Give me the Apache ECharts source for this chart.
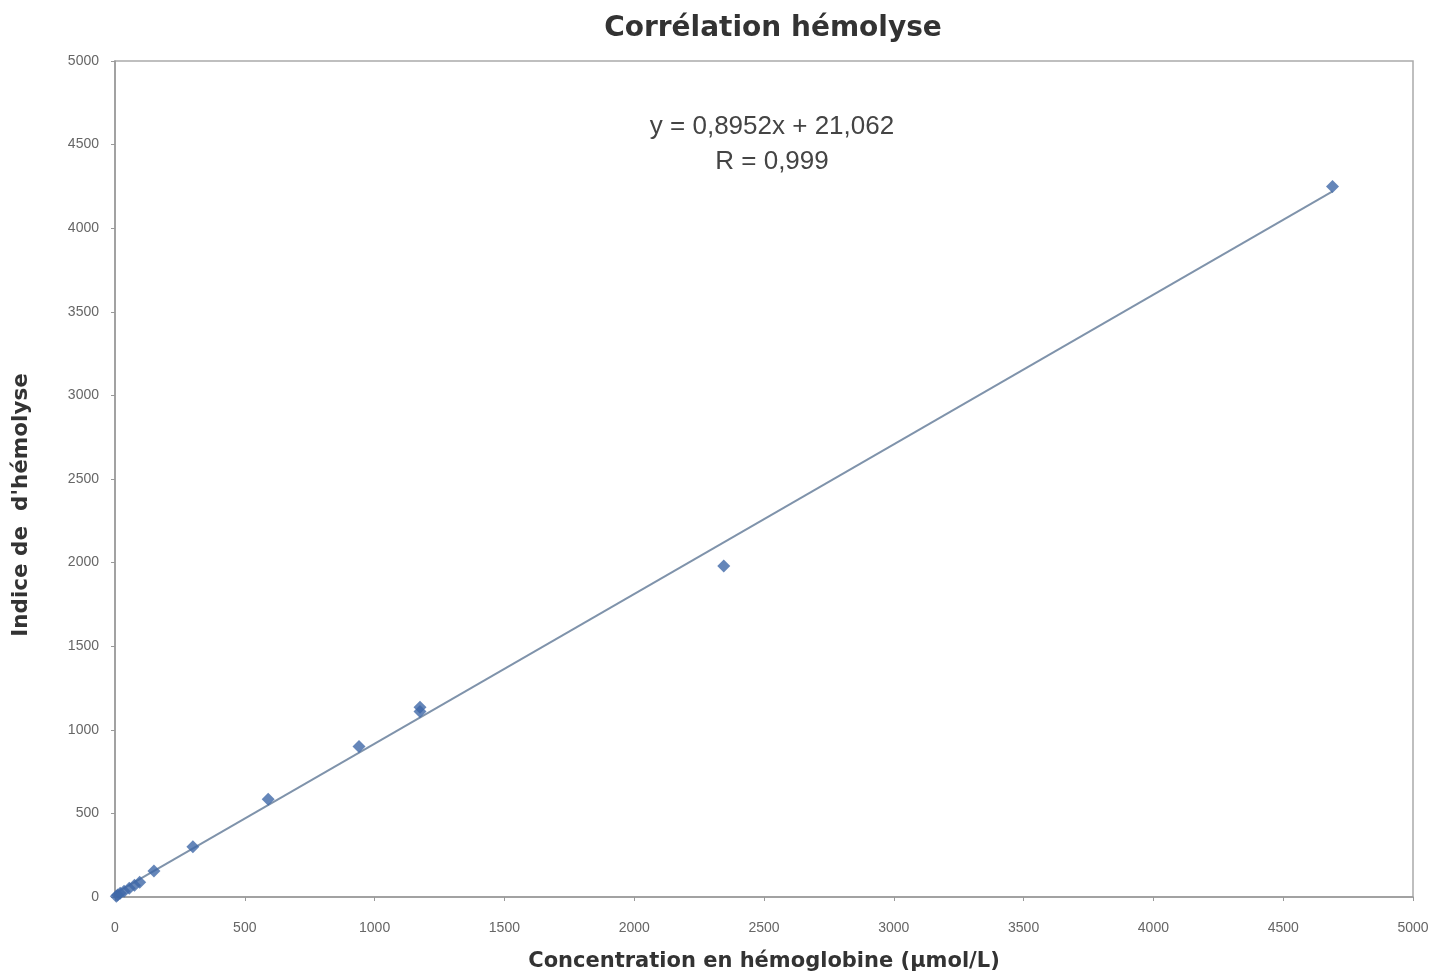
<!DOCTYPE html>
<html><head><meta charset="utf-8">
<script src="https://cdn.jsdelivr.net/npm/echarts@6/dist/echarts.min.js"></script>
<style>html,body{margin:0;padding:0;background:#fff}#c{width:1453px;height:977px}</style>
</head><body><div id="c"></div>
<script>
var hemoglobin = [5, 10, 20, 35, 55, 75, 95, 150, 300, 590, 940, 1175, 1175, 2345, 4690];
var hemolysisIndex = [5, 12, 22, 35, 52, 70, 88, 155, 300, 585, 900, 1110, 1135, 1980, 4250];
var trendX = [0, 4690];
var trendY = [21, 4220];
var xTicks = [0, 500, 1000, 1500, 2000, 2500, 3000, 3500, 4000, 4500, 5000];
var yTicks = [0, 500, 1000, 1500, 2000, 2500, 3000, 3500, 4000, 4500, 5000];

var points = hemoglobin.map(function (x, i) { return [x, hemolysisIndex[i]]; });
var trend = trendX.map(function (x, i) { return [x, trendY[i]]; });

var chart = echarts.init(document.getElementById('c'));
chart.setOption({
  animation: false,
  title: {
    text: 'Corrélation hémolyse', left: 768, top: 10, textAlign: 'center',
    textStyle: { fontFamily: 'DejaVu Sans', fontWeight: 'bold', fontSize: 28, color: '#333' }
  },
  graphic: [
    { type: 'text', position: [772, 127], style: { text: 'y = 0,8952x + 21,062', x: 0, y: 0, align: 'center', verticalAlign: 'middle', fontFamily: 'Liberation Sans', fontSize: 26, fill: '#444' } },
    { type: 'text', position: [772, 162], style: { text: 'R = 0,999', x: 0, y: 0, align: 'center', verticalAlign: 'middle', fontFamily: 'Liberation Sans', fontSize: 26, fill: '#444' } },
    { type: 'text', position: [21, 505], rotation: Math.PI / 2, style: { text: "Indice de  d'hémolyse", x: 0, y: 0, align: 'center', verticalAlign: 'middle', fontFamily: 'DejaVu Sans', fontWeight: 'bold', fontSize: 21.5, fill: '#333' } }
  ],
  grid: { left: 115, right: 40, top: 61, bottom: 79, show: true, borderColor: '#aaa', borderWidth: 1.5 },
  xAxis: {
    type: 'value', min: xTicks[0], max: xTicks[xTicks.length - 1], interval: 500,
    name: 'Concentration en hémoglobine (µmol/L)', nameLocation: 'middle', nameGap: 54,
    nameTextStyle: { fontFamily: 'DejaVu Sans', fontWeight: 'bold', fontSize: 21, color: '#333' },
    axisLine: { show: true, lineStyle: { color: '#999', width: 1.5 } },
    axisTick: { show: true, length: 4, lineStyle: { color: '#999' } },
    axisLabel: { fontFamily: 'Liberation Sans', fontSize: 14, color: '#666', margin: 24, formatter: function (v) { return String(v); } },
    splitLine: { show: false }
  },
  yAxis: {
    type: 'value', min: yTicks[0], max: yTicks[yTicks.length - 1], interval: 500,
    axisLine: { show: true, lineStyle: { color: '#999', width: 1.5 } },
    axisTick: { show: true, length: 4, lineStyle: { color: '#999' } },
    axisLabel: { fontFamily: 'Liberation Sans', fontSize: 14, color: '#666', margin: 16, formatter: function (v) { return String(v); } },
    splitLine: { show: false }
  },
  series: [
    {
      type: 'line', data: trend, symbol: 'none', silent: true,
      lineStyle: { color: '#7f93ab', width: 2 }, z: 1
    },
    {
      type: 'scatter', data: points, symbol: 'diamond', symbolSize: 13,
      itemStyle: { color: '#3f68a8' }, z: 2
    }
  ]
});
</script></body></html>
